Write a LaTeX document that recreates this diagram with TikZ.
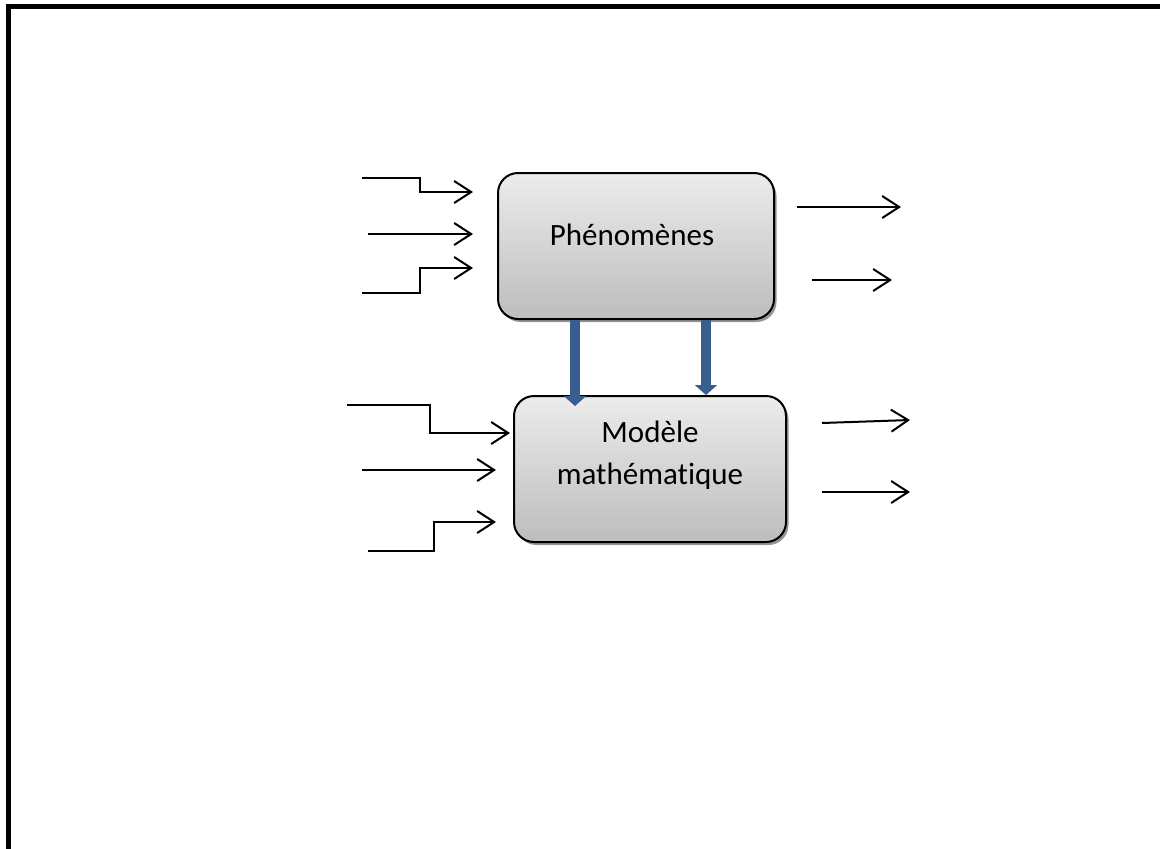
\documentclass[tikz,border=0pt]{standalone}
\usepackage{fontspec}
\setmainfont{Carlito}[Ligatures=NoCommon]
\usetikzlibrary{arrows.meta,shadows}

\begin{document}
\begin{tikzpicture}[x=1pt,y=-1pt,
  bloc/.style={draw, line width=2pt, rounded corners=20pt, inner sep=0pt,
    top color=gray!15, bottom color=gray!52,
    drop shadow={shadow xshift=2.5pt, shadow yshift=-3pt, fill=black!70, opacity=0.6}},
  feed/.style={draw, line width=2pt, -{Straight Barb[length=17pt,width=22pt]}},
  flow/.style={draw, line width=10pt, color={rgb,255:red,56;green,94;blue,141},
    -{Triangle[length=10pt,width=22pt]}},
  font=\fontsize{31}{42}\selectfont]
\useasboundingbox (0,0) rectangle (1160,849);
\draw[line width=5pt] (8.5,849) -- (8.5,6.5) -- (1160,6.5);

\node[bloc, minimum width=276pt, minimum height=146pt] (phen) at (636,246) {};
\node[bloc, minimum width=272pt, minimum height=146pt] (model) at (650,469) {};
\node[anchor=base] (phen-txt) at (632,245) {Phénomènes};
\node[anchor=base, align=center] (model-txt) at (650,484) {Modèle\\mathématique};

\coordinate (in1) at (362,178);  \coordinate (tip1) at (473,192);
\coordinate (in2) at (368,234);  \coordinate (tip2) at (473,234);
\coordinate (in3) at (362,293);  \coordinate (tip3) at (473,268);
\coordinate (in4) at (347,405);  \coordinate (tip4) at (510,433);
\coordinate (in5) at (362,470);  \coordinate (tip5) at (496,470);
\coordinate (in6) at (368,551);  \coordinate (tip6) at (496,522);
\path[feed] (in1) -- ++(58,0) |- (tip1);
\path[feed] (in2) -- (tip2);
\path[feed] (in3) -- ++(58,0) |- (tip3);
\path[feed] (in4) -- ++(83,0) |- (tip4);
\path[feed] (in5) -- (tip5);
\path[feed] (in6) -- ++(66,0) |- (tip6);

\coordinate (out1) at (797,207); \coordinate (end1) at (901,207);
\coordinate (out2) at (812,280); \coordinate (end2) at (892,280);
\coordinate (out3) at (822,423); \coordinate (end3) at (910,420);
\coordinate (out4) at (822,492); \coordinate (end4) at (910,492);
\path[feed] (out1) -- (end1);
\path[feed] (out2) -- (end2);
\path[feed] (out3) -- (end3);
\path[feed] (out4) -- (end4);

\path[flow] (phen.south -| 575,0) -- ([yshift=-11pt]model.north -| 575,0);
\path[flow] (phen.south -| 706,0) -- (model.north -| 706,0);
\end{tikzpicture}
\end{document}
